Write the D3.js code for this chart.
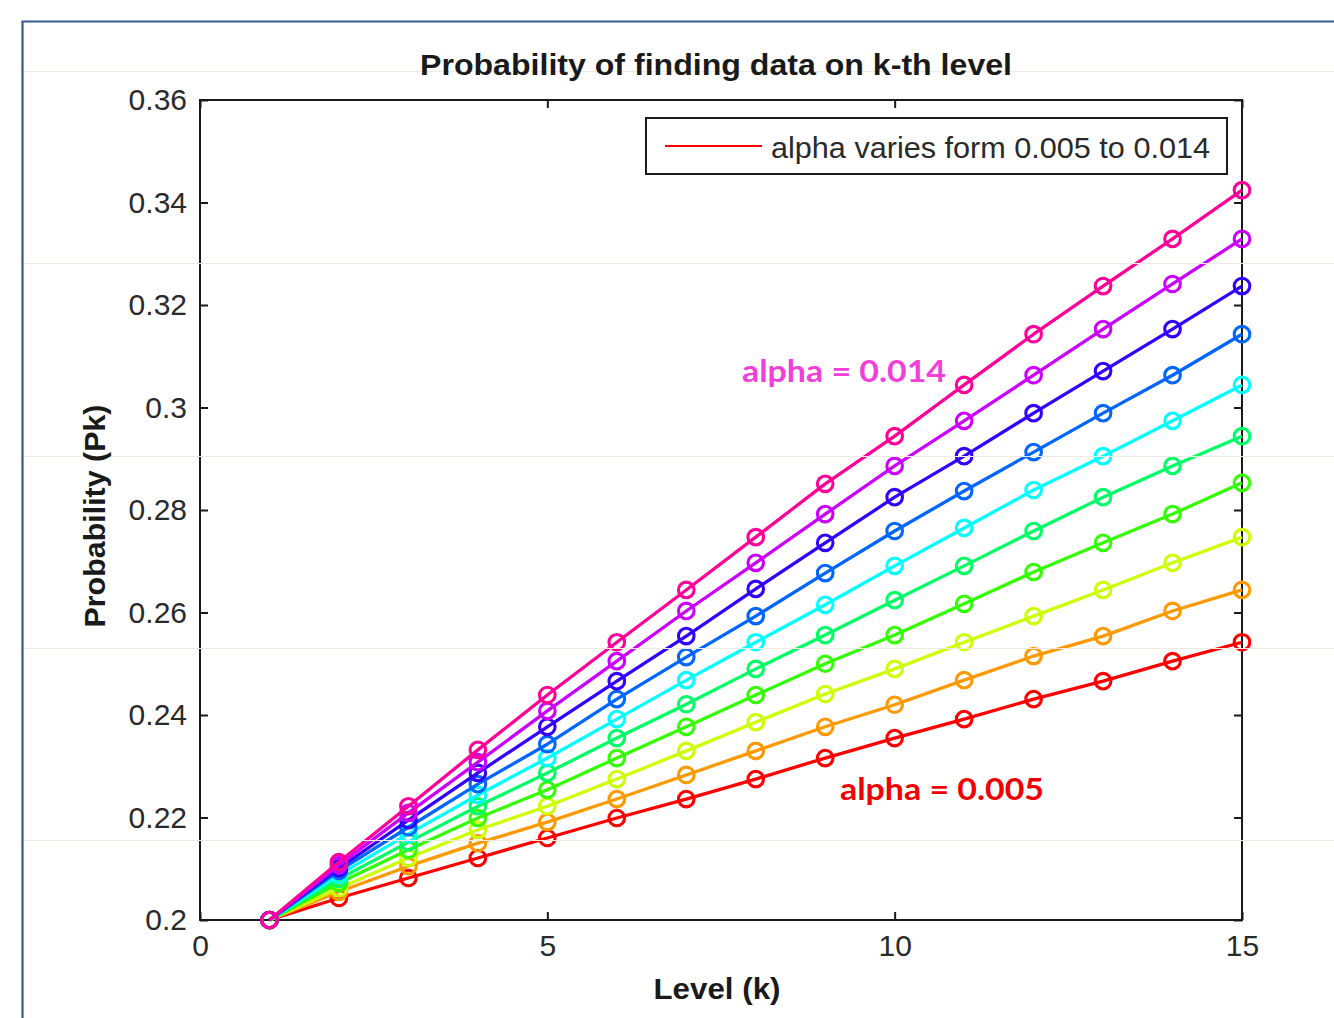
<!DOCTYPE html>
<html>
<head>
<meta charset="utf-8">
<script src="https://cdn.jsdelivr.net/npm/d3@7"></script>
<style>
  body { margin: 0; background: #fff; }
  svg { display: block; }
</style>
</head>
<body>
<svg id="chart" width="1334" height="1018"></svg>
<script>
// Level index k
const levels = [1, 2, 3, 4, 5, 6, 7, 8, 9, 10, 11, 12, 13, 14, 15];

// alpha for each curve (0.005 .. 0.014)
const alphaValues = [0.005, 0.006, 0.007, 0.008, 0.009, 0.010, 0.011, 0.012, 0.013, 0.014];

// hsv(10) colormap, one colour per alpha
const seriesColors = ["#ff0000", "#ff9900", "#ccff00", "#33ff00", "#00ff66",
                      "#00ffff", "#0066ff", "#3300ff", "#cc00ff", "#ff0099"];

// Probability Pk for each alpha
const pAlpha005 = [0.2000, 0.2043, 0.2082, 0.2121, 0.2160, 0.2199, 0.2236, 0.2275, 0.2316, 0.2355, 0.2392, 0.2431, 0.2466, 0.2505, 0.2542];
const pAlpha006 = [0.2000, 0.2055, 0.2105, 0.2150, 0.2191, 0.2236, 0.2283, 0.2330, 0.2377, 0.2420, 0.2468, 0.2515, 0.2554, 0.2603, 0.2644];
const pAlpha007 = [0.2000, 0.2062, 0.2121, 0.2176, 0.2222, 0.2275, 0.2330, 0.2386, 0.2441, 0.2490, 0.2542, 0.2593, 0.2644, 0.2697, 0.2747];
const pAlpha008 = [0.2000, 0.2072, 0.2137, 0.2199, 0.2254, 0.2316, 0.2377, 0.2439, 0.2500, 0.2556, 0.2617, 0.2679, 0.2736, 0.2792, 0.2853];
const pAlpha009 = [0.2000, 0.2080, 0.2152, 0.2222, 0.2287, 0.2355, 0.2421, 0.2490, 0.2556, 0.2624, 0.2691, 0.2759, 0.2825, 0.2886, 0.2944];
const pAlpha010 = [0.2000, 0.2088, 0.2168, 0.2244, 0.2316, 0.2392, 0.2468, 0.2542, 0.2615, 0.2691, 0.2765, 0.2839, 0.2905, 0.2974, 0.3044];
const pAlpha011 = [0.2000, 0.2096, 0.2181, 0.2265, 0.2343, 0.2431, 0.2513, 0.2593, 0.2677, 0.2759, 0.2837, 0.2913, 0.2989, 0.3063, 0.3143];
const pAlpha012 = [0.2000, 0.2101, 0.2195, 0.2287, 0.2377, 0.2466, 0.2554, 0.2646, 0.2736, 0.2825, 0.2905, 0.2989, 0.3071, 0.3153, 0.3237];
const pAlpha013 = [0.2000, 0.2107, 0.2209, 0.2308, 0.2408, 0.2505, 0.2603, 0.2697, 0.2792, 0.2886, 0.2974, 0.3063, 0.3153, 0.3241, 0.3329];
const pAlpha014 = [0.2000, 0.2113, 0.2222, 0.2332, 0.2439, 0.2542, 0.2644, 0.2747, 0.2851, 0.2944, 0.3044, 0.3143, 0.3237, 0.3329, 0.3424];

const seriesValues = [pAlpha005, pAlpha006, pAlpha007, pAlpha008, pAlpha009,
                      pAlpha010, pAlpha011, pAlpha012, pAlpha013, pAlpha014];

// Axis ticks
const xTickValues = [0, 5, 10, 15];
const xTickLabels = ["0", "5", "10", "15"];
const yTickValues = [0.2, 0.22, 0.24, 0.26, 0.28, 0.3, 0.32, 0.34, 0.36];
const yTickLabels = ["0.2", "0.22", "0.24", "0.26", "0.28", "0.3", "0.32", "0.34", "0.36"];

// Texts
const titleText = "Probability of finding data on k-th level";
const xLabelText = "Level (k)";
const yLabelText = "Probability (Pk)";
const legendText = "alpha varies form 0.005 to 0.014";
const noteHigh = "alpha = 0.014";
const noteLow = "alpha = 0.005";

const svg = d3.select("#chart");
const W = 1334, H = 1018;
const plot = { left: 200, right: 1242, top: 100, bottom: 920 };

svg.append("rect").attr("width", W).attr("height", H).attr("fill", "#fff");

// Outer frame of the figure panel
svg.append("path")
  .attr("d", `M1334,21.5 H22.5 V1018`)
  .attr("fill", "none")
  .attr("stroke", "#335c96")
  .attr("stroke-width", 2.2);

const x = d3.scaleLinear().domain([0, 15]).range([plot.left, plot.right]);
const y = d3.scaleLinear().domain([0.2, 0.36]).range([plot.bottom, plot.top]);

const tickFont = "'Liberation Sans', Arial, sans-serif";
const tickSize = 30;

function styleAxis(g, showLabels) {
  g.select(".domain").remove();
  g.selectAll(".tick line").attr("stroke", "#1a1a1a").attr("stroke-width", 2);
  g.selectAll(".tick text")
    .attr("fill", "#2a2a2a")
    .style("font-family", tickFont)
    .style("font-size", tickSize + "px");
  if (!showLabels) g.selectAll(".tick text").remove();
}

// Left axis with labels
svg.append("g")
  .attr("transform", `translate(${plot.left},0)`)
  .call(d3.axisLeft(y).tickValues(yTickValues)
        .tickFormat((d, i) => yTickLabels[i])
        .tickSize(-8).tickSizeOuter(0).tickPadding(13))
  .call(g => styleAxis(g, true));

// Right axis, ticks only
svg.append("g")
  .attr("transform", `translate(${plot.right},0)`)
  .call(d3.axisRight(y).tickValues(yTickValues).tickSize(-8).tickSizeOuter(0))
  .call(g => styleAxis(g, false));

// Bottom axis with labels
svg.append("g")
  .attr("transform", `translate(0,${plot.bottom})`)
  .call(d3.axisBottom(x).tickValues(xTickValues)
        .tickFormat((d, i) => xTickLabels[i])
        .tickSize(-8).tickSizeOuter(0).tickPadding(15))
  .call(g => styleAxis(g, true));

// Top axis, ticks only
svg.append("g")
  .attr("transform", `translate(0,${plot.top})`)
  .call(d3.axisTop(x).tickValues(xTickValues).tickSize(-8).tickSizeOuter(0))
  .call(g => styleAxis(g, false));

// Axes box
svg.append("rect")
  .attr("x", plot.left).attr("y", plot.top)
  .attr("width", plot.right - plot.left).attr("height", plot.bottom - plot.top)
  .attr("fill", "none").attr("stroke", "#1a1a1a").attr("stroke-width", 2);

// Curves with circle markers
const line = d3.line().x((d, i) => x(levels[i])).y(d => y(d));
const curves = svg.append("g");
seriesValues.forEach((vals, s) => {
  const g = curves.append("g");
  g.append("path")
    .attr("d", line(vals))
    .attr("fill", "none")
    .attr("stroke", seriesColors[s])
    .attr("stroke-width", 3.3)
    .attr("stroke-linejoin", "round");
  g.selectAll("circle").data(vals).join("circle")
    .attr("cx", (d, i) => x(levels[i]))
    .attr("cy", d => y(d))
    .attr("r", 7.8)
    .attr("fill", "none")
    .attr("stroke", seriesColors[s])
    .attr("stroke-width", 3.1);
});

// Faint page rules running across the panel
const ruleRows = [71, 263, 456, 648, 840];
svg.append("g").selectAll("line").data(ruleRows).join("line")
  .attr("x1", 24).attr("x2", W)
  .attr("y1", d => d + 0.5).attr("y2", d => d + 0.5)
  .attr("stroke", "#eeebe4").attr("stroke-width", 1);

// Legend
const legend = svg.append("g");
legend.append("rect")
  .attr("x", 646).attr("y", 118).attr("width", 581).attr("height", 56)
  .attr("fill", "#fff").attr("stroke", "#1a1a1a").attr("stroke-width", 2);
legend.append("line")
  .attr("x1", 665).attr("x2", 762).attr("y1", 146).attr("y2", 146)
  .attr("stroke", seriesColors[0]).attr("stroke-width", 2.2);
legend.append("text")
  .attr("x", 771).attr("y", 158)
  .attr("textLength", 439).attr("lengthAdjust", "spacingAndGlyphs")
  .style("font-family", tickFont).style("font-size", "30px")
  .attr("fill", "#2a2a2a")
  .text(legendText);

// Title and axis labels
const boldFont = "'Liberation Sans', Arial, sans-serif";
svg.append("text")
  .attr("x", 716).attr("y", 75).attr("text-anchor", "middle")
  .attr("textLength", 592).attr("lengthAdjust", "spacingAndGlyphs")
  .style("font-family", boldFont).style("font-size", "30px").style("font-weight", "bold")
  .attr("fill", "#1a1a1a")
  .text(titleText);

svg.append("text")
  .attr("x", 717).attr("y", 999).attr("text-anchor", "middle")
  .attr("textLength", 127).attr("lengthAdjust", "spacingAndGlyphs")
  .style("font-family", boldFont).style("font-size", "30px").style("font-weight", "bold")
  .attr("fill", "#1a1a1a")
  .text(xLabelText);

svg.append("text")
  .attr("transform", "translate(105,516) rotate(-90)")
  .attr("text-anchor", "middle")
  .attr("textLength", 223).attr("lengthAdjust", "spacingAndGlyphs")
  .style("font-family", boldFont).style("font-size", "30px").style("font-weight", "bold")
  .attr("fill", "#1a1a1a")
  .text(yLabelText);

// Curve annotations
const noteFont = "Lato, 'Open Sans', sans-serif";
svg.append("text")
  .attr("x", 844).attr("y", 382).attr("text-anchor", "middle")
  .attr("textLength", 204).attr("lengthAdjust", "spacingAndGlyphs")
  .style("font-family", noteFont).style("font-size", "31px").style("font-weight", "bold")
  .attr("fill", "#f23fd9")
  .text(noteHigh);

svg.append("text")
  .attr("x", 942).attr("y", 800).attr("text-anchor", "middle")
  .attr("textLength", 204).attr("lengthAdjust", "spacingAndGlyphs")
  .style("font-family", noteFont).style("font-size", "31px").style("font-weight", "bold")
  .attr("fill", "#f20000")
  .text(noteLow);
</script>
</body>
</html>
